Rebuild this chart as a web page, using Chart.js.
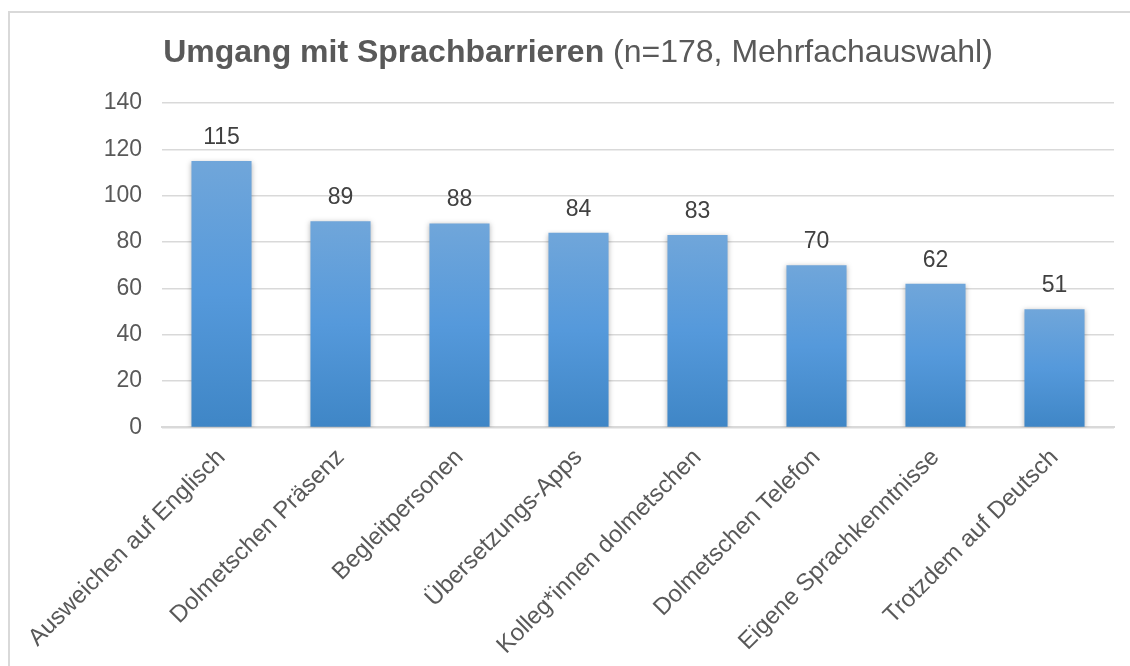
<!DOCTYPE html>
<html>
<head>
<meta charset="utf-8">
<script src="https://cdn.jsdelivr.net/npm/chart.js@4"></script>
<style>
  body { margin: 0; background: #fff; overflow: hidden; }
  .frame { position: absolute; left: 8px; top: 11px; width: 1300px; height: 900px; border: 2px solid #d9d9d9; box-sizing: border-box; }
  .wrap { position: absolute; left: 0; top: 0; width: 1130px; height: 666px; }
</style>
</head>
<body>
<div class="frame"></div>
<div class="wrap"><canvas class="sprachChart" width="1130" height="666"></canvas></div>
<script>
// Werte
const categories = [
    'Ausweichen auf Englisch',
    'Dolmetschen Präsenz',
    'Begleitpersonen',
    'Übersetzungs-Apps',
    'Kolleg*innen dolmetschen',
    'Dolmetschen Telefon',
    'Eigene Sprachkenntnisse',
    'Trotzdem auf Deutsch'
]
const counts = [115, 89, 88, 84, 83, 70, 62, 51]
const yTicks = [0, 20, 40, 60, 80, 100, 120, 140]
const titleBold = 'Umgang mit Sprachbarrieren'
const titleNormal = ' (n=178, Mehrfachauswahl)'

const sprachChart = document.querySelector('.sprachChart')
const fontFamily = '"Liberation Sans", Arial, sans-serif'

// Verlauf pro Balken, oben heller
function barGradient(context) {
    const chart = context.chart
    const yScale = chart.scales.y
    if (!yScale || context.raw === undefined) return '#5b9bd5'
    const top = yScale.getPixelForValue(context.raw)
    const bottom = yScale.getPixelForValue(0)
    if (!isFinite(top) || !isFinite(bottom)) return '#5b9bd5'
    const g = chart.ctx.createLinearGradient(0, top, 0, bottom)
    g.addColorStop(0, '#70a6da')
    g.addColorStop(0.5, '#5599db')
    g.addColorStop(1, '#3f86c6')
    return g
}

const titlePlugin = {
    id: 'mixedTitle',
    afterDraw(chart) {
        const ctx = chart.ctx
        ctx.save()
        ctx.fillStyle = '#595959'
        ctx.textBaseline = 'alphabetic'
        ctx.font = 'bold 32px ' + fontFamily
        const w1 = ctx.measureText(titleBold).width
        ctx.font = '32px ' + fontFamily
        const w2 = ctx.measureText(titleNormal).width
        const startX = 578 - (w1 + w2) / 2
        ctx.font = 'bold 32px ' + fontFamily
        ctx.fillText(titleBold, startX, 62)
        ctx.font = '32px ' + fontFamily
        ctx.fillText(titleNormal, startX + w1, 62)
        ctx.restore()
    }
}

const shadowPlugin = {
    id: 'barShadow',
    beforeDatasetsDraw(chart) {
        const ctx = chart.ctx
        ctx.save()
        ctx.shadowColor = 'rgba(0,0,0,0.28)'
        ctx.shadowBlur = 5
        ctx.shadowOffsetX = 0
        ctx.shadowOffsetY = 1
    },
    afterDatasetsDraw(chart) {
        chart.ctx.restore()
    }
}

const valuePlugin = {
    id: 'valueLabels',
    afterDatasetsDraw(chart) {
        const ctx = chart.ctx
        const meta = chart.getDatasetMeta(0)
        ctx.save()
        ctx.fillStyle = '#404040'
        ctx.font = '23px ' + fontFamily
        ctx.textAlign = 'center'
        ctx.textBaseline = 'alphabetic'
        meta.data.forEach((bar, i) => {
            ctx.fillText(counts[i], bar.x, bar.y - 17)
        })
        ctx.restore()
    }
}

new Chart(sprachChart, {
    type: 'bar',
    data: {
        labels: categories,
        datasets: [{
            label: 'Anzahl',
            data: counts,
            backgroundColor: barGradient,
            borderWidth: 0,
            categoryPercentage: 0.505,
            barPercentage: 1
        }]
    },
    options: {
        responsive: false,
        animation: false,
        layout: {
            padding: { left: 40, right: 16, top: 103, bottom: -10 }
        },
        plugins: {
            legend: { display: false },
            title: { display: false },
            tooltip: { enabled: false }
        },
        scales: {
            x: {
                grid: { display: false, drawTicks: false },
                border: { color: '#d9d9d9', width: 2 },
                ticks: {
                    color: '#595959',
                    font: { family: fontFamily, size: 24 },
                    autoSkip: false,
                    maxRotation: 45,
                    minRotation: 45,
                    padding: 16
                }
            },
            y: {
                min: 0,
                max: 140,
                afterBuildTicks(axis) {
                    axis.ticks = yTicks.map(v => ({ value: v }))
                },
                afterFit(axis) {
                    axis.width = 122
                },
                grid: { color: '#d9d9d9', lineWidth: 1.5, drawTicks: false },
                border: { display: false },
                ticks: {
                    color: '#595959',
                    font: { family: fontFamily, size: 23 },
                    padding: 20
                }
            }
        }
    },
    plugins: [titlePlugin, shadowPlugin, valuePlugin]
})
</script>
</body>
</html>
